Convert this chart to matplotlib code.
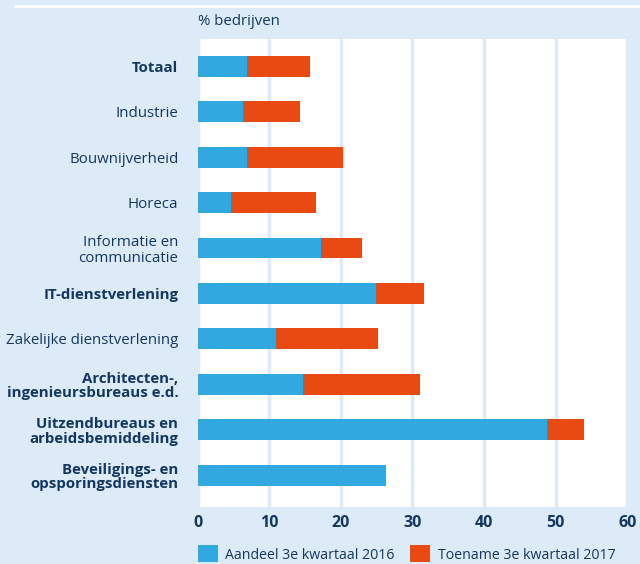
import numpy as np
import matplotlib
matplotlib.use('Agg')
import matplotlib.pyplot as plt

categories = ['Totaal', 'Industrie', 'Bouwnijverheid', 'Horeca',
              'Informatie en\ncommunicatie', 'IT-dienstverlening',
              'Zakelijke dienstverlening', 'Architecten-,\ningenieursbureaus e.d.',
              'Uitzendbureaus en\narbeidsbemiddeling',
              'Beveiligings- en\nopsporingsdiensten']
bold_labels = [True, False, False, False, False, True, False, True, True, True]
aandeel_2016 = [6.9, 6.3, 6.9, 4.7, 17.2, 24.9, 11.0, 14.7, 48.8, 26.3]
toename_2017 = [8.8, 8.0, 13.4, 11.8, 5.7, 6.7, 14.2, 16.3, 5.2, 0.0]
xticks = [0, 10, 20, 30, 40, 50, 60]

bg = '#ddeaf7'
blue = '#31a9e0'
orange = '#e84a12'
navy = '#143761'

plt.rcParams['font.family'] = ['Open Sans', 'DejaVu Sans']

fig = plt.figure(figsize=(6.4, 5.64), dpi=100, facecolor=bg)
ax = fig.add_axes([0.309, 0.101, 0.671, 0.830])
ax.set_facecolor('white')

y = np.arange(len(categories))
ax.barh(y, aandeel_2016, height=0.46, color=blue, label='Aandeel 3e kwartaal 2016', zorder=3)
ax.barh(y, toename_2017, left=aandeel_2016, height=0.46, color=orange,
        label='Toename 3e kwartaal 2017', zorder=3)

ax.set_xlim(0, 60)
ax.set_ylim(len(categories) - 0.3, -0.6)
ax.set_xticks(xticks)
ax.set_xticklabels([str(t) for t in xticks], fontsize=11.5, fontweight='bold', color=navy)
ax.set_yticks(y)
ax.set_yticklabels(categories, fontsize=10.8, color=navy, linespacing=1.05)
for lbl, b in zip(ax.get_yticklabels(), bold_labels):
    lbl.set_ha('right')
    if b:
        lbl.set_fontweight('bold')
ax.tick_params(axis='both', length=0)
ax.tick_params(axis='y', pad=14)
ax.tick_params(axis='x', pad=6)
ax.grid(axis='x', color=bg, linewidth=2.5, zorder=1)
for s in ax.spines.values():
    s.set_visible(False)

fig.text(0.309, 0.962, '% bedrijven', fontsize=10.8, color=navy, va='center', ha='left')
fig.add_artist(plt.Line2D([0.023, 1.0], [0.989, 0.989], color='white', linewidth=2))

fig.legend(loc='upper left', bbox_to_anchor=(0.300, 0.043), ncol=2, frameon=False,
           fontsize=10.2, handlelength=1.4, handleheight=1.45, handletextpad=0.55,
           columnspacing=1.1, labelcolor=navy, borderaxespad=0)

plt.savefig('out.png', dpi=100, facecolor=bg)
